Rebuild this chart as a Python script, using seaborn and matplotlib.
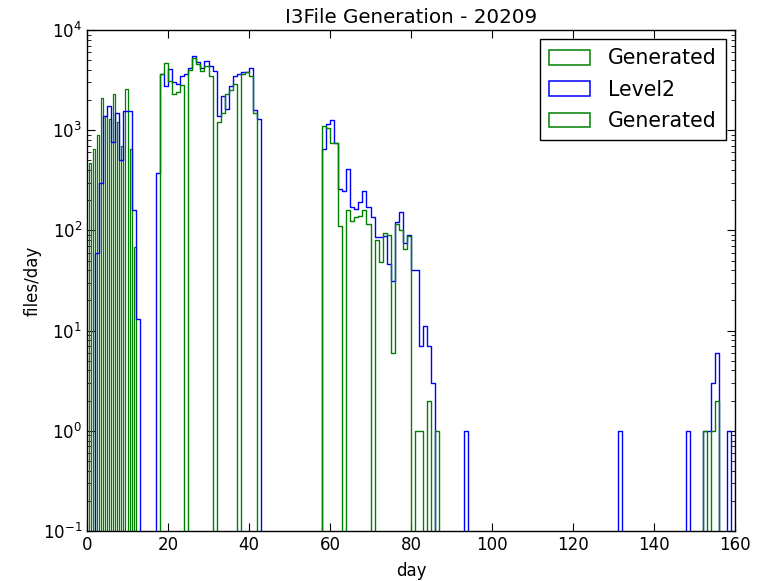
import numpy as np
import pandas as pd
import matplotlib
matplotlib.use("Agg")
import matplotlib.pyplot as plt
import seaborn as sns
from matplotlib.patches import Patch
from matplotlib.ticker import LogLocator, NullFormatter

# ---------------- data ----------------
title = "I3File Generation - 20209"
xlabel = "day"
ylabel = "files/day"
legend_labels = ["Generated", "Level2", "Generated"]
x_ticks = [0, 20, 40, 60, 80, 100, 120, 140, 160]

# first "Generated" series: half-day bins, early spikes
gen_early_start = [0.5, 1.5, 2.5, 3.5, 4.5, 5.5, 6.5, 7.5, 8.5, 9.5, 10.5, 11.5]
gen_early_counts = [475, 645, 900, 2100, 1400, 1300, 2300, 1200, 700, 2600, 650, 69]

# Level2: files per day (1-day bins, day = bin start)
level2_days_a = list(range(2, 13))
level2_counts_a = [60, 300, 1400, 1750, 760, 1500, 510, 1550, 1550, 160, 13]
level2_days_b = list(range(17, 43))
level2_counts_b = [370, 3630, 2770, 4070, 3000, 2880, 3490, 3630, 4220, 5460,
                   4750, 4220, 4930, 4400, 3920, 1390, 2200, 1620, 2770, 3490,
                   3630, 3770, 3770, 4220, 1600, 1300]
level2_days_c = list(range(58, 86))
level2_counts_c = [645, 1150, 1250, 750, 257, 250, 407, 170, 162, 190,
                   246, 170, 137, 85, 85, 88, 46, 31, 120, 152,
                   75, 90, 40, 40, 7, 11, 7, 3]
level2_days_d = [93, 131, 148, 152, 153, 154, 155, 158]
level2_counts_d = [1, 1, 1, 1, 1, 3, 6, 1]

# second "Generated" series: files per day (1-day bins)
gen_days_b = list(range(18, 42))
gen_counts_b = [3600, 4700, 3100, 2300, 2400, 2800, 0, 4000, 5300, 4600,
                3900, 4400, 3500, 0, 1200, 1500, 2300, 2500, 2900, 0,
                3600, 3800, 3500, 1500]
gen_days_c = list(range(58, 87))
gen_counts_c = [1100, 1050, 750, 750, 110, 0, 160, 123, 137, 140,
                160, 115, 0, 81, 48, 95, 90, 6, 115, 100,
                65, 88, 0, 1, 1, 0, 2, 0, 1]
gen_days_d = [152, 154, 155]
gen_counts_d = [1, 1, 2]

# ---------------- styling ----------------
sns.set_theme(style="ticks", rc={
    "axes.edgecolor": "black",
    "axes.linewidth": 1.0,
    "xtick.direction": "in",
    "ytick.direction": "in",
    "xtick.color": "black",
    "ytick.color": "black",
    "text.color": "black",
    "axes.labelcolor": "black",
})
plt.rcParams["font.family"] = ["DejaVu Sans"]
plt.rcParams["mathtext.fontset"] = "dejavusans"

GREEN = (0.0, 0.5, 0.0)
BLUE = (0.0, 0.0, 1.0)

fig = plt.figure(figsize=(7.6, 5.81), dpi=100)
fig.patch.set_facecolor("white")
ax = fig.add_axes([87 / 760, 50 / 581, 648 / 760, 501 / 581])
ax.set_facecolor("white")

day_edges = [float(v) for v in np.arange(0, 161, 1)]
half_edges = [float(v) for v in np.arange(0, 13.01, 0.5)]

df_early = pd.DataFrame({"day": np.array(gen_early_start) + 0.25,
                         "files": gen_early_counts})
l2_days = level2_days_a + level2_days_b + level2_days_c + level2_days_d
l2_counts = level2_counts_a + level2_counts_b + level2_counts_c + level2_counts_d
df_l2 = pd.DataFrame({"day": np.array(l2_days) + 0.5, "files": l2_counts})
g_days = gen_days_b + gen_days_c + gen_days_d
g_counts = gen_counts_b + gen_counts_c + gen_counts_d
df_gen = pd.DataFrame({"day": np.array(g_days) + 0.5, "files": g_counts})

# first Generated
sns.histplot(data=df_early, x="day", weights="files", bins=half_edges,
             element="step", fill=False, color=GREEN, linewidth=0.9, ax=ax)
# Level2
sns.histplot(data=df_l2, x="day", weights="files", bins=day_edges,
             element="step", fill=False, color=BLUE, linewidth=1.0, ax=ax)
# second Generated
sns.histplot(data=df_gen, x="day", weights="files", bins=day_edges,
             element="step", fill=False, color=GREEN, linewidth=1.0, ax=ax)

ax.set_yscale("log")
ax.set_xlim(0, 160)
ax.set_ylim(0.1, 1e4)
ax.set_xticks(x_ticks)
ax.yaxis.set_major_locator(LogLocator(base=10, numticks=10))
ax.yaxis.set_minor_locator(LogLocator(base=10, subs=np.arange(2, 10), numticks=100))
ax.yaxis.set_minor_formatter(NullFormatter())

ax.tick_params(which="both", direction="in", top=True, right=True,
               bottom=True, left=True, labelsize=12, color="black")
ax.tick_params(which="major", length=5.5, width=0.8)
ax.tick_params(which="minor", length=2.8, width=0.6)
for sp in ax.spines.values():
    sp.set_visible(True)
    sp.set_color("black")
    sp.set_linewidth(1.0)

ax.set_title(title, fontsize=14.3, pad=5)
ax.set_xlabel(xlabel, fontsize=12, labelpad=6)
ax.set_ylabel(ylabel, fontsize=12, labelpad=1)

handles = [Patch(facecolor="none", edgecolor=GREEN, linewidth=1.1),
           Patch(facecolor="none", edgecolor=BLUE, linewidth=1.1),
           Patch(facecolor="none", edgecolor=GREEN, linewidth=1.1)]
leg = ax.legend(handles, legend_labels, loc="upper right", fontsize=14.8,
                frameon=True, fancybox=False, framealpha=1.0,
                edgecolor="black", borderaxespad=0.45, handlelength=2.0,
                handletextpad=0.85, labelspacing=0.55, borderpad=0.45)
leg.get_frame().set_linewidth(1.0)

fig.savefig("out.png", dpi=100, facecolor="white")
